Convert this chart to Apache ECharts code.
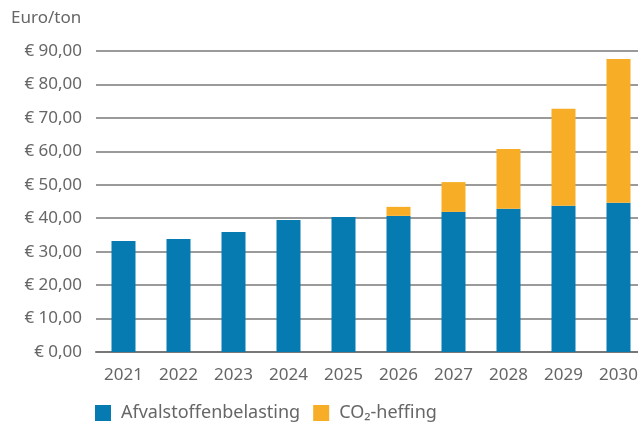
<!DOCTYPE html>
<html>
<head>
<meta charset="utf-8">
<script src="https://cdn.jsdelivr.net/npm/echarts@6/dist/echarts.min.js"></script>
<style>
  html, body { margin: 0; padding: 0; background: #fff; }
  #chart { width: 638px; height: 424px; }
</style>
</head>
<body>
<div id="chart"></div>
<script>
// data
var years = ['2021', '2022', '2023', '2024', '2025', '2026', '2027', '2028', '2029', '2030'];
var afval = [33.2, 33.8, 35.9, 39.5, 40.4, 40.7, 41.9, 42.8, 43.7, 44.6];
var co2 = [0, 0, 0, 0, 0, 2.7, 8.9, 17.9, 29.0, 43.0];
var seriesNames = ['Afvalstoffenbelasting', 'CO\u2082-heffing'];

var chart = echarts.init(document.getElementById('chart'));
var txt = '#666';
var font = 'Noto Sans';

function euro(v) {
  return '\u20ac ' + v.toFixed(2).replace('.', ',');
}

var option = {
  animation: false,
  title: {
    text: 'Euro/ton',
    left: 6,
    top: 5,
    textStyle: { color: txt, fontSize: 17, fontWeight: 'normal', fontFamily: font }
  },
  legend: {
    left: 90,
    bottom: -3,
    itemWidth: 16,
    itemHeight: 16,
    itemGap: 13,
    icon: 'rect',
    textStyle: { color: txt, fontSize: 18, fontFamily: font, padding: [0, 0, 0, 5] },
    data: seriesNames
  },
  // plot runs a little past the right edge, as in the picture
  grid: { left: 96, width: 550, top: 51, bottom: 72, outerBoundsMode: 'none' },
  xAxis: {
    type: 'category',
    data: years,
    axisTick: { show: false },
    axisLine: { lineStyle: { color: '#777', width: 2 } },
    axisLabel: { color: txt, fontSize: 17, fontFamily: font, margin: 15 }
  },
  yAxis: {
    type: 'value',
    min: 0,
    max: 90,
    interval: 10,
    axisLine: { show: false },
    axisTick: { show: false },
    axisLabel: {
      color: txt, fontSize: 17, fontFamily: font, margin: 14,
      formatter: euro
    },
    splitLine: { lineStyle: { color: '#9a9a9a', width: 2 } }
  },
  series: [
    {
      name: seriesNames[0],
      type: 'bar',
      stack: 'tot',
      barWidth: 24,
      itemStyle: { color: '#057BB1' },
      data: afval
    },
    {
      name: seriesNames[1],
      type: 'bar',
      stack: 'tot',
      barWidth: 24,
      itemStyle: { color: '#F7AE26' },
      data: co2
    }
  ]
};

chart.setOption(option);
</script>
</body>
</html>
